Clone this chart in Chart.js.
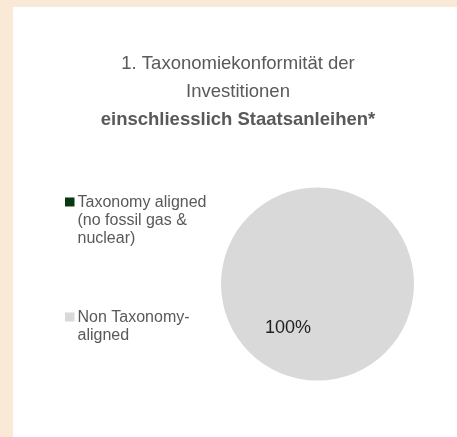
<!DOCTYPE html>
<html>
<head>
<meta charset="utf-8">
<script src="https://cdn.jsdelivr.net/npm/chart.js@4"></script>
<style>
    html, body { margin: 0; padding: 0; background: #fae9d7; }
    #panel { position: absolute; left: 13px; top: 7px; width: 444px; height: 430px; background: #ffffff; }
</style>
</head>
<body>
<div id="panel"><canvas id="chart" width="444" height="430"></canvas></div>
<script>
const titleLines = ['1. Taxonomiekonformität der', 'Investitionen'];
const subtitleText = 'einschliesslich Staatsanleihen*';
const categories = [
    ['Taxonomy aligned', '(no fossil gas &', 'nuclear)'],
    ['Non Taxonomy-', 'aligned']
];
const shares = [0, 100];
const sliceColors = ['#073a12', '#d9d9d9'];

const fontFamily = "Arial, 'Liberation Sans', sans-serif";

// left box that holds the legend and pushes the pie to the right
const sideLegend = {
    id: 'sideLegend',
    start(chart) {
        const box = {
            position: 'left',
            weight: 0,
            fullSize: false,
            options: {},
            isHorizontal() { return false; },
            update(maxWidth, maxHeight) {
                this.width = 159;
                this.height = maxHeight;
            },
            draw() {
                const ctx = chart.ctx;
                const labels = chart.data.labels;
                const colors = chart.data.datasets[0].backgroundColor;
                const itemTops = [this.top + 15, this.top + 130];
                const lineH = 18.3;
                ctx.save();
                ctx.font = '16px ' + fontFamily;
                ctx.textBaseline = 'middle';
                ctx.textAlign = 'left';
                labels.forEach((lines, i) => {
                    const y0 = itemTops[i];
                    ctx.fillStyle = colors[i];
                    ctx.fillRect(this.left + 46, y0 - 5, 9.5, 9);
                    ctx.fillStyle = '#595959';
                    lines.forEach((line, j) => {
                        ctx.fillText(line, this.left + 58.5, y0 + j * lineH);
                    });
                });
                ctx.restore();
            }
        };
        Chart.layouts.addBox(chart, box);
    }
};

const sliceLabels = {
    id: 'sliceLabels',
    afterDatasetsDraw(chart) {
        const ctx = chart.ctx;
        const meta = chart.getDatasetMeta(0);
        const values = chart.data.datasets[0].data;
        const total = values.reduce((a, b) => a + b, 0);
        ctx.save();
        ctx.font = '18px ' + fontFamily;
        ctx.fillStyle = '#1f1f1f';
        ctx.textAlign = 'center';
        ctx.textBaseline = 'middle';
        meta.data.forEach((arc, i) => {
            if (!values[i]) return;
            const r = arc.outerRadius;
            const pct = Math.round(values[i] / total * 100) + '%';
            ctx.fillText(pct, arc.x - 0.306 * r, arc.y + 0.456 * r);
        });
        ctx.restore();
    }
};

new Chart(document.getElementById('chart'), {
    type: 'pie',
    data: {
        labels: categories,
        datasets: [{
            data: shares,
            backgroundColor: sliceColors,
            borderWidth: 0
        }]
    },
    options: {
        responsive: false,
        animation: false,
        events: [],
        layout: {
            padding: { left: 6, right: 0, top: 0, bottom: 56.5 }
        },
        plugins: {
            legend: { display: false },
            tooltip: { enabled: false },
            title: {
                display: true,
                text: titleLines,
                color: '#595959',
                font: { family: fontFamily, size: 18.5, weight: 'normal', lineHeight: 1.54 },
                padding: { top: 42.5, bottom: 0 }
            },
            subtitle: {
                display: true,
                text: subtitleText,
                color: '#595959',
                font: { family: fontFamily, size: 18.5, weight: 'bold', lineHeight: 1.2 },
                padding: { top: 2.4, bottom: 56.4 }
            }
        }
    },
    plugins: [sideLegend, sliceLabels]
});
</script>
</body>
</html>
